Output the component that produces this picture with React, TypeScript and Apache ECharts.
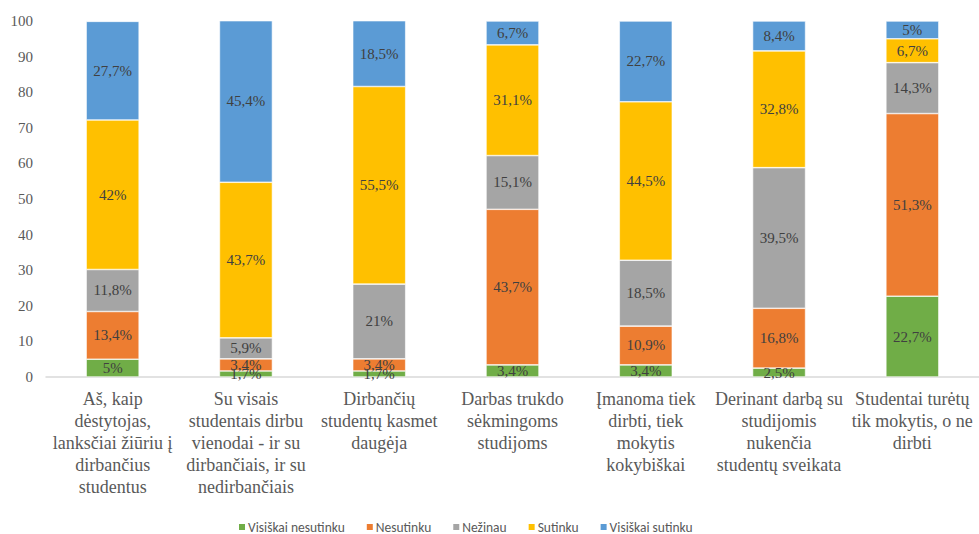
import React, { useEffect, useRef } from "react";
import * as echarts from "echarts";

const categories = [
  "Aš, kaip\ndėstytojas,\nlanksčiai žiūriu į\ndirbančius\nstudentus",
  "Su visais\nstudentais dirbu\nvienodai - ir su\ndirbančiais, ir su\nnedirbančiais",
  "Dirbančių\nstudentų kasmet\ndaugėja",
  "Darbas trukdo\nsėkmingoms\nstudijoms",
  "Įmanoma tiek\ndirbti, tiek\nmokytis\nkokybiškai",
  "Derinant darbą su\nstudijomis\nnukenčia\nstudentų sveikata",
  "Studentai turėtų\ntik mokytis, o ne\ndirbti",
];

const seriesNames = ["Visiškai nesutinku", "Nesutinku", "Nežinau", "Sutinku", "Visiškai sutinku"];
const visiskaiNesutinku = [5, 1.7, 1.7, 3.4, 3.4, 2.5, 22.7];
const nesutinku = [13.4, 3.4, 3.4, 43.7, 10.9, 16.8, 51.3];
const nezinau = [11.8, 5.9, 21, 15.1, 18.5, 39.5, 14.3];
const sutinku = [42, 43.7, 55.5, 31.1, 44.5, 32.8, 6.7];
const visiskaiSutinku = [27.7, 45.4, 18.5, 6.7, 22.7, 8.4, 5];
const colors = ["#70AD47", "#ED7D31", "#A5A5A5", "#FFC000", "#5B9BD5"];

const serif = "Liberation Serif";

export default function App() {
  const ref = useRef<HTMLDivElement>(null);
  useEffect(() => {
    if (!ref.current) return;
    const chart = echarts.init(ref.current, undefined, { renderer: "svg" });
    const all = [visiskaiNesutinku, nesutinku, nezinau, sutinku, visiskaiSutinku];
    chart.setOption({
      animation: false,
      grid: { left: 46, top: 21, bottom: 157, width: 938 },
      legend: {
        left: 232,
        top: 515,
        itemWidth: 8,
        itemHeight: 8,
        itemGap: 20,
        icon: "rect",
        textStyle: { fontFamily: "Carlito", fontSize: 13.5, color: "#595959", padding: [0, 0, 0, -3] },
        data: seriesNames,
      },
      xAxis: {
        type: "category",
        data: categories,
        axisLine: { lineStyle: { color: "#D9D9D9", width: 1.5 } },
        axisTick: { show: false },
        axisLabel: {
          interval: 0,
          margin: 11,
          fontFamily: serif,
          fontSize: 18,
          lineHeight: 22,
          color: "#595959",
          align: "center",
        },
      },
      yAxis: {
        type: "value",
        min: 0,
        max: 100,
        interval: 10,
        axisLine: { show: false },
        axisTick: { show: false },
        splitLine: { show: false },
        axisLabel: { fontFamily: serif, fontSize: 15, color: "#595959", margin: 13 },
      },
      series: seriesNames.map((name, i) => ({
        name,
        type: "bar",
        stack: "total",
        barWidth: 53,
        data: all[i],
        itemStyle: { color: colors[i], borderColor: "#ffffff", borderWidth: 0.6 },
        label: {
          show: true,
          position: "inside",
          fontFamily: serif,
          fontSize: 15,
          color: "#404040",
          formatter: (p: any) => String(p.value).replace(".", ",") + "%",
        },
      })),
    });
    return () => chart.dispose();
  }, []);
  return (
    <div
      ref={ref}
      style={{ position: "fixed", left: 0, top: 0, width: 979, height: 534, background: "#fff" }}
    />
  );
}
